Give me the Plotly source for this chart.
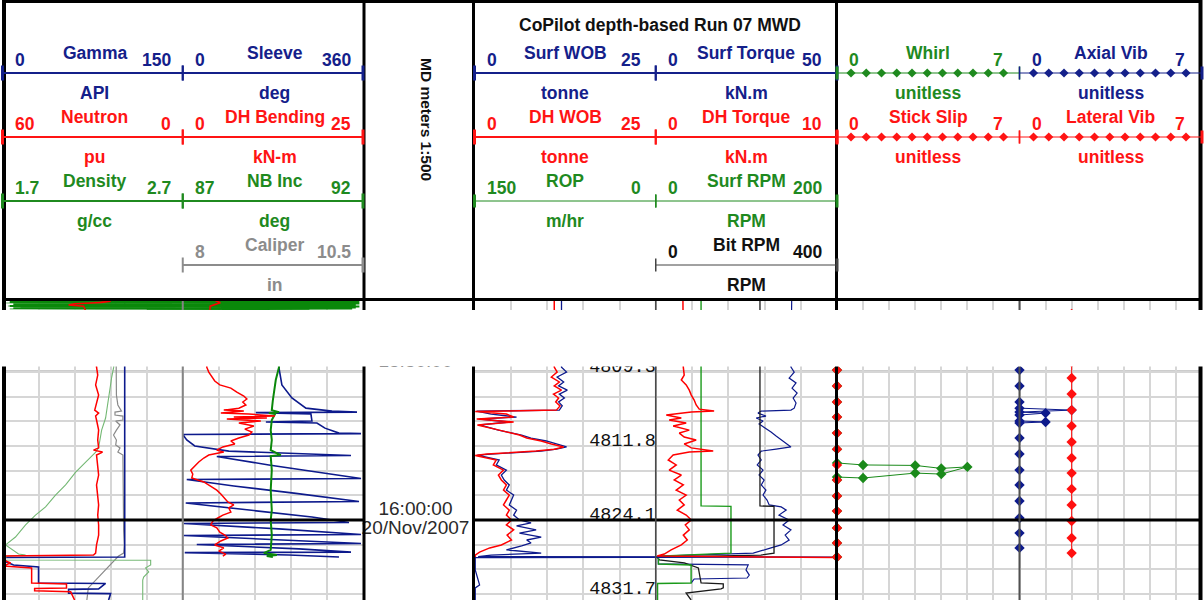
import numpy as np
import plotly.graph_objects as go

W, H = 1204, 600

# ------------------------------------------------------------------
# DATA  (time index = seconds relative to 16:00:00 on 20/Nov/2007)
# ------------------------------------------------------------------
# Track 1
gamma_t = [-891, 150, 152, 170, 182, 190, 255, 257, 279, 281, 296, 298, 324]
gamma_v = [101.7, 101.7, 0.8, 3.3, 9.2, 30.0, 30.0, 85.8, 80.0, 55.0, 55.0, 90.0, 88.3]

neutron_t = [-891, -886, -881, -876, -871, -866, -760, -619, -587, -547, -506, -466, -445, -433, -421,
             -405, -364, -324, -292, -283, -275, -263, -223, -182, -142, -101, -61, -20, 20, 61, 101,
             134, 142, 146, 162, 174, 186, 194, 255, 259, 275, 277, 287, 291, 324]
neutron_v = [31.0, 24.0, 27.0, 36.0, 38.0, 33.0, 29.0, 28.7, 28.3, 29.0, 28.0, 29.0, 29.3, 28.0, 29.0,
             28.7, 28.0, 28.3, 28.0, 29.7, 26.7, 28.7, 28.3, 28.0, 28.7, 28.3, 28.0, 28.3, 28.0, 28.0, 28.7,
             29.0, 29.7, 59.7, 59.7, 57.3, 59.7, 50.3, 50.3, 38.7, 38.7, 49.3, 49.3, 37.3, 36.0]

density_t = [-891, -888, -885, -882, -879, -876, -873, -870, -867, -864, -861, -858, -855, -852,
             -760, -619, -579, -547, -506, -466, -413, -364, -292, -275, -235, -194, -142, -101, -53,
             -20, 20, 69, 101, 138, 142, 146, 154, 162, 163, 182, 194, 210, 231, 243, 324]
density_v = [1.72, 2.66, 1.75, 2.68, 1.72, 2.64, 1.78, 2.68, 1.73, 2.60, 1.80, 2.66, 1.74, 2.50,
             2.33, 2.317, 2.306, 2.300, 2.289, 2.283, 2.272, 2.250, 2.233, 2.217, 2.161, 2.106, 2.050,
             1.994, 1.939, 1.883, 1.828, 1.772, 1.717, 1.789, 1.828, 1.733, 1.706, 1.706, 2.522, 2.522,
             2.494, 2.511, 2.483, 2.478, 2.478]

caliper_t = [-891, -619, -567, -506, -466, -445, -441, -437, -425, -421, -405, -401, -385, -364, -344,
             -324, -304, -292, -275, -263, -202, -121, -40, 40, 101, 134, 146, 275, 324]
caliper_v = [7.07, 7.07, 7.07, 7.08, 7.10, 7.15, 7.15, 7.06, 7.06, 7.17, 7.17, 7.07, 7.13, 7.08, 7.04,
             7.08, 7.07, 7.13, 7.10, 7.17, 7.17, 7.18, 7.17, 7.18, 7.19, 7.18, 7.11, 6.69, 6.67]

nbinc_t = [-891, -889, -887, -885, -883, -881, -879, -877, -875, -873, -871, -869, -867, -865, -863,
           -861, -859, -857, -855, -853,
           -760, -619, -567, -526, -486, -445, -437, -433, -429, -405, -364, -324, -283, -263, -259,
           -202, -121, -40, 0, 61, 121, 134, 142, 146, 150]
nbinc_v = [82.3, 91.8, 82.6, 91.9, 82.2, 91.7, 82.5, 91.9, 82.3, 91.8, 82.4, 91.6, 82.2, 91.9, 82.7,
           91.8, 82.3, 91.7, 86.0, 90.5,
           89.70, 89.67, 89.58, 89.53, 89.50, 89.47, 89.67, 89.39, 89.56, 89.47, 89.44, 89.47, 89.44,
           89.72, 89.44, 89.47, 89.44, 89.47, 89.44, 89.47, 89.44, 89.25, 89.61, 89.33, 89.50]

bend_t = [-891, -880, -866, -619, -599, -579, -563, -547, -534, -518, -502, -490, -478, -466, -453,
          -445, -441, -433, -429, -421, -417, -413, -409, -401, -393, -381, -368, -356, -344, -332,
          -320, -308, -296, -283, -275, -263, -251, -235, -219, -202, -186, -170, -154, -138, -121,
          -105, -89, -73, -61, -49, -32, -20, -8, 4, 20, 32, 49, 61, 73, 85, 101, 113, 126, 138, 146]
bend_v = [4.4, 5.2, 3.8, 3.33, 3.61, 4.03, 4.44, 5.14, 6.67, 7.50, 8.47, 8.89, 8.33, 8.75, 7.78,
          5.69, 8.47, 5.28, 9.17, 12.78, 7.08, 11.67, 6.11, 10.83, 7.78, 9.86, 8.61, 9.58, 9.17, 7.78,
          6.67, 7.22, 5.56, 4.72, 5.69, 3.61, 2.92, 2.22, 1.67, 1.11, 1.39, 1.25, 2.92, 3.89, 4.72,
          5.28, 5.83, 6.25, 7.08, 6.39, 6.67, 5.56, 4.86, 4.17, 3.89, 4.72, 5.14, 5.83, 6.25, 5.28,
          4.44, 5.69, 5.00, 5.97, 5.56]

sleeve_t = [-891, -885, -878, -870, -760, -619, -547, -494, -453, -441, -437, -435, -429, -401, -397,
            -393, -372, -352, -350, -346, -324, -300, -279, -261, -257, -223, -194, -168, -164, -138,
            -109, -75, -69, -40, -12, 10, 14, 36, 59, 63, 95, 99, 117, 130, 132, 142, 150]
sleeve_v = [80, 200, 140, 170, 180, 192, 198, 218, 246, 298, 348, 146, 256, 258, 166,
            268, 284, 312, 356, 0, 8, 24, 92, 336, 68, 172, 272, 356, 8, 102,
            222, 352, 6, 132, 258, 332, 2, 192, 356, 2, 356, 28, 232, 336, 4, 212, 312]

# Track 2
surfwob_t = [-891, -619, -599, -579, -559, -543, -526, -510, -494, -478, -462, -445, -441, -429, -417,
             -409, -397, -385, -364, -344, -332, -320, -308, -296, -287, -279, -267, -263, -243, -223,
             -202, -182, -162, -142, -121, -101, -81, -61, -40, -20, 0, 12, 24, 40, 53, 69, 81, 93,
             105, 121, 134, 142, 148, 150, 152, 202, 263, 275, 324]
surfwob_v = [12.0, 12.0, 12.7, 11.4, 12.3, 11.6, 12.8, 11.7, 12.4, 11.6, 12.1, 11.7, 0.3, 2.3, 5.8,
             0.7, 4.8, 0.7, 3.3, 6.5, 7.8, 9.9, 11.3, 12.7, 11.3, 9.2, 2.3, 0.4, 3.4, 3.0,
             4.4, 3.7, 4.1, 4.8, 4.4, 5.4, 5.1, 4.8, 5.8, 5.4, 6.2, 7.8, 5.8, 8.5, 6.2, 9.2, 7.2, 7.8,
             6.5, 4.4, 9.2, 2.3, 0.5, 50.0, 0.1, 0.1, 0.7, 0.1, 0.1]

dhwob_t = [-891, -619, -599, -579, -559, -543, -526, -510, -494, -478, -462, -445, -439, -429, -417,
           -409, -397, -385, -364, -344, -332, -320, -308, -296, -287, -279, -267, -261, -243, -223,
           -202, -182, -162, -142, -121, -101, -81, -61, -40, -20, 0, 20, 40, 61, 81, 101, 113, 130,
           142, 150]
dhwob_v = [11.0, 11.0, 11.4, 10.6, 11.7, 11.0, 12.0, 10.9, 11.6, 11.2, 11.8, 11.3, 0.1, 4.4, 5.4,
           0.3, 5.4, 0.4, 3.4, 6.2, 7.2, 9.2, 10.6, 12.3, 11.0, 8.5, 1.7, 0.1, 3.0, 2.6,
           4.0, 3.3, 3.7, 4.4, 4.0, 4.8, 4.4, 4.0, 4.8, 4.4, 5.1, 4.4, 5.4, 4.5, 5.1, 3.7, 2.1, 0.7,
           0.1, 0.1]

surftq_t = [-891, -619, -599, -575, -555, -534, -514, -494, -474, -453, -445, -441, -433, -421, -413,
            -401, -389, -372, -356, -340, -324, -308, -296, -287, -279, -263, -243, -223, -202, -182,
            -162, -142, -121, -101, -81, -61, -53, -40, -20, 0, 20, 40, 61, 81, 101, 113, 126, 134,
            146, 154, 178, 182, 202, 223, 235, 239, 255]
surftq_v = [37.5, 37.3, 38.2, 36.8, 38.7, 37.6, 39.0, 37.9, 38.7, 38.2, 37.3, 29.1, 28.2, 30.4, 27.7,
            29.6, 28.5, 30.4, 31.8, 33.2, 34.6, 36.2, 37.3, 33.2, 29.1, 28.2, 29.1, 28.0, 29.6, 28.5,
            29.9, 29.1, 30.4, 29.6, 30.7, 31.3, 34.6, 36.0, 34.0, 36.8, 35.1, 37.3, 35.7, 36.8, 34.6,
            31.8, 28.5, 26.9, 1.5, 0.7, 0.7, 25.5, 24.9, 25.8, 25.2, 10.6, 9.8]

dhtq_t = [-891, -619, -587, -567, -547, -526, -506, -486, -466, -449, -441, -437, -425, -413, -405,
          -393, -381, -364, -352, -336, -324, -308, -292, -279, -275, -263, -243, -223, -202, -182,
          -162, -142, -121, -101, -81, -61, -40, -20, 0, 20, 40, 61, 81, 101, 121, 138, 146, 150, 152]
dhtq_v = [1.50, 1.52, 1.57, 1.41, 1.68, 1.85, 1.96, 2.12, 2.23, 2.40, 3.22, 1.96, 0.58, 1.41, 0.74,
          1.68, 0.96, 1.85, 1.30, 1.57, 2.23, 1.57, 1.96, 3.17, 1.85, 0.96, 0.69, 1.13, 0.74, 1.41,
          1.02, 1.52, 1.13, 1.68, 1.30, 1.57, 1.19, 1.68, 1.96, 1.63, 1.85, 1.52, 1.74, 1.41, 0.85,
          0.47, 0.08, 10.0, 10.0]

surfrpm_t = [-891, -57, -55, 134, 146, 178, 182, 255, 257, 324]
surfrpm_v = [50, 50, 83, 83, 3, 3, 39, 39, 2, 2]

bitrpm_t = [-891, -57, -55, 134, 142, 150, 162, 170, 174, 194, 255, 259, 275, 279, 296, 324]
bitrpm_v = [230, 230, 261, 261, 232, 3, 8, 56, 63, 94, 100, 149, 149, 144, 67, 78]

# Track 3 (vibration severities)
stick_t = [-800, -735, -671, -607, -543, -478, -417, -352, -287, -223, -162, -97, -36, 32, 93, 150]
stick_v = [0, 0, 0, 0, 0, 0, 0, 0, 0, 0, 0, 0, 0, 0, 0, 0]

whirl_t = [-800, -735, -671, -607, -543, -478, -417, -352, -287, -231, -223, -221, -209, -215, -186,
           -190, -170, -174, -162, -97, -36, 32, 93, 150]
whirl_v = [0, 0, 0, 0, 0, 0, 0, 0, 0, 0, 1, 3, 4, 5, 4, 3, 1, 0, 0, 0, 0, 0, 0, 0]

axial_t = [-800, -735, -671, -607, -543, -478, -453, -445, -437, -433, -425, -401, -397, -393, -332,
           -267, -202, -142, -77, -8, 53, 113]
axial_v = [0, 0, 0, 0, 0, 0, 0, 2, 0, 1, 0, 0, 1, 0, 0, 0, 0, 0, 0, 0, 0, 0]

lateral_t = [-834, -770, -705, -640, -575, -510, -445, -381, -316, -251, -190, -126, -61, 4, 73, 134]
lateral_v = [2, 2, 2, 2, 2, 2, 2, 2, 2, 2, 2, 2, 2, 2, 2, 2]

# Depth / time annotations of the index track (text baselines)
depth_t = [-581, -281, 19, 319]
depth_labels = ["4809.3", "4811.8", "4824.1", "4831.7"]
time_t = [-600, 0]
time_labels = ["15:50:00", "16:00:00"]
date_t = [0]
date_labels = ["20/Nov/2007"]

TITLE = "CoPilot depth-based Run 07 MWD"
DEPTH_TITLE = "MD meters 1:500"

# ------------------------------------------------------------------
# STYLE / GEOMETRY
# ------------------------------------------------------------------
NAVY = "#14208a"
RED = "#ff1414"
GREEN = "#1f8a1f"
GRAY = "#8c8c8c"
BLACK = "#111111"
GRID = "#d6d6d6"
FONT = "Liberation Sans, Arial, sans-serif"

TRACKS = {1: (2.5, 363.0, 10), 2: (474.5, 837.0, 10), 3: (837.0, 1202.0, 14)}
DEPTH_TRACK = (364.0, 473.5)
BODY_TOP, BODY_BOT = 300, 600
Y_RANGE = [324, -891]
ROW_Y = [73, 137, 201, 265]
HEADER_LW = {1: [2, 2, 2, 2], 2: [2, 2, 1, 1], 3: [1, 1, 1, 1]}
LEFT_PAD = 10
RIGHT_PAD = {1: 10, 2: 13, 3: 15}
NAME_SHIFT = {1: 2, 2: 0, 3: 0}

curves = [
    dict(name="Gamma", unit="API", lo=0, hi=150, color=NAVY, track=1, half="L", row=0, t=gamma_t, v=gamma_v),
    dict(name="Sleeve", unit="deg", lo=0, hi=360, color=NAVY, track=1, half="R", row=0, t=sleeve_t, v=sleeve_v),
    dict(name="Neutron", unit="pu", lo=60, hi=0, color=RED, track=1, half="L", row=1, t=neutron_t, v=neutron_v),
    dict(name="DH Bending", unit="kN-m", lo=0, hi=25, color=RED, track=1, half="R", row=1, t=bend_t, v=bend_v),
    dict(name="Density", unit="g/cc", lo=1.7, hi=2.7, color=GREEN, track=1, half="L", row=2, t=density_t, v=density_v),
    dict(name="NB Inc", unit="deg", lo=87, hi=92, color=GREEN, track=1, half="R", row=2, t=nbinc_t, v=nbinc_v),
    dict(name="Caliper", unit="in", lo=8, hi=10.5, color=GRAY, track=1, half="R", row=3, t=caliper_t, v=caliper_v),
    dict(name="Surf WOB", unit="tonne", lo=0, hi=25, color=NAVY, track=2, half="L", row=0, t=surfwob_t, v=surfwob_v),
    dict(name="Surf Torque", unit="kN.m", lo=0, hi=50, color=NAVY, track=2, half="R", row=0, t=surftq_t, v=surftq_v),
    dict(name="DH WOB", unit="tonne", lo=0, hi=25, color=RED, track=2, half="L", row=1, t=dhwob_t, v=dhwob_v),
    dict(name="DH Torque", unit="kN.m", lo=0, hi=10, color=RED, track=2, half="R", row=1, t=dhtq_t, v=dhtq_v),
    dict(name="ROP", unit="m/hr", lo=150, hi=0, color=GREEN, track=2, half="L", row=2, t=None, v=None),
    dict(name="Surf RPM", unit="RPM", lo=0, hi=200, color=GREEN, track=2, half="R", row=2, t=surfrpm_t, v=surfrpm_v),
    dict(name="Bit RPM", unit="RPM", lo=0, hi=400, color=BLACK, track=2, half="R", row=3, t=bitrpm_t, v=bitrpm_v),
    dict(name="Whirl", unit="unitless", lo=0, hi=7, color=GREEN, track=3, half="L", row=0, t=whirl_t, v=whirl_v),
    dict(name="Axial Vib", unit="unitless", lo=0, hi=7, color=NAVY, track=3, half="R", row=0, t=axial_t, v=axial_v),
    dict(name="Stick Slip", unit="unitless", lo=0, hi=7, color=RED, track=3, half="L", row=1, t=stick_t, v=stick_v),
    dict(name="Lateral Vib", unit="unitless", lo=0, hi=7, color=RED, track=3, half="R", row=1, t=lateral_t, v=lateral_v),
]

CURVE_STYLE = {
    "Gamma": dict(color="#0d1a8c", width=1.6),
    "Sleeve": dict(color="#0d1a8c", width=1.6),
    "Neutron": dict(color="#ff0000", width=1.5),
    "DH Bending": dict(color="#ff0000", width=1.5),
    "Density": dict(color="#74b874", width=1.1),
    "NB Inc": dict(color="#0a880a", width=2.0),
    "Caliper": dict(color="#8a8a8a", width=1.2),
    "Surf WOB": dict(color="#0d1a8c", width=1.3),
    "Surf Torque": dict(color="#0d1a8c", width=1.2),
    "DH WOB": dict(color="#ff0000", width=1.5),
    "DH Torque": dict(color="#ff0000", width=1.5),
    "Surf RPM": dict(color="#1a9a1a", width=1.4),
    "Bit RPM": dict(color="#1a1a1a", width=1.3),
    "Whirl": dict(color="#1a8a1a", width=1.0),
    "Axial Vib": dict(color="#0d1a8c", width=1.0),
    "Stick Slip": dict(color="#ff1010", width=1.0),
    "Lateral Vib": dict(color="#ff1010", width=1.0),
}
VIB = {"Whirl", "Axial Vib", "Stick Slip", "Lateral Vib"}
DRAW_ORDER = ["Caliper", "Gamma", "Sleeve", "Density", "NB Inc", "Neutron", "DH Bending",
              "Surf Torque", "Bit RPM", "Surf RPM", "Surf WOB", "DH WOB", "DH Torque",
              "Whirl", "Axial Vib", "Stick Slip", "Lateral Vib"]


def fmt(v):
    return "{:g}".format(v)


def half_bounds(track, half):
    x0, x1, _ = TRACKS[track]
    mid = (x0 + x1) / 2
    return (x0, mid) if half == "L" else (mid, x1)


def full_range(c):
    lo, hi = c["lo"], c["hi"]
    if c["half"] == "L":
        return [lo, 2 * hi - lo]
    return [2 * lo - hi, hi]


# ------------------------------------------------------------------
# FIGURE / AXES
# ------------------------------------------------------------------
fig = go.Figure()
layout = dict(
    width=W, height=H, autosize=False, margin=dict(l=0, r=0, t=0, b=0),
    paper_bgcolor="white", plot_bgcolor="rgba(0,0,0,0)", showlegend=False,
)
body_dom = [0, (H - BODY_TOP) / H]
base_x = {1: "x", 2: "x2", 3: "x3"}
for k, name in [(1, "xaxis"), (2, "xaxis2"), (3, "xaxis3")]:
    x0, x1, nd = TRACKS[k]
    layout[name] = dict(domain=[x0 / W, x1 / W], range=[0, nd], dtick=1, tick0=0, showgrid=True,
                        gridcolor=GRID, gridwidth=2, showticklabels=False, ticks="", zeroline=False,
                        showline=False, anchor="y", fixedrange=True)
layout["yaxis"] = dict(domain=body_dom, range=Y_RANGE, dtick=100, tick0=0, showgrid=True,
                       gridcolor=GRID, gridwidth=2, zeroline=False, showticklabels=False,
                       ticks="", showline=False, anchor="x", fixedrange=True)
layout["xaxis4"] = dict(domain=[DEPTH_TRACK[0] / W, DEPTH_TRACK[1] / W], range=[0, 1], visible=False,
                        anchor="y2", fixedrange=True)
layout["yaxis2"] = dict(domain=body_dom, range=Y_RANGE, visible=False, anchor="x4", fixedrange=True)
layout["xaxis5"] = dict(domain=[0, 1], range=[0, W], visible=False, anchor="y3", fixedrange=True)
layout["yaxis3"] = dict(domain=[0, 1], range=[H, 0], visible=False, anchor="x5", fixedrange=True)

# dummy traces so the base track subplots exist
for k in (1, 3):
    fig.add_trace(go.Scatter(x=[None], y=[None], xaxis=base_x[k], yaxis="y", hoverinfo="skip"))

# curves
by_name = {c["name"]: c for c in curves}
ax_n = 6
for nm in DRAW_ORDER:
    c = by_name[nm]
    if c["t"] is None:
        continue
    layout["xaxis%d" % ax_n] = dict(overlaying=base_x[c["track"]], range=full_range(c), visible=False,
                                    anchor="y", fixedrange=True)
    st = CURVE_STYLE[nm]
    if nm in VIB:
        fig.add_trace(go.Scatter(x=c["v"], y=c["t"], mode="lines+markers", xaxis="x%d" % ax_n, yaxis="y",
                                 line=dict(color=st["color"], width=st["width"]),
                                 marker=dict(symbol="diamond", size=8, color=st["color"]),
                                 cliponaxis=False, hoverinfo="skip"))
    else:
        fig.add_trace(go.Scatter(x=c["v"], y=c["t"], mode="lines", xaxis="x%d" % ax_n, yaxis="y",
                                 line=dict(color=st["color"], width=st["width"]), hoverinfo="skip"))
    ax_n += 1

# depth labels in track 2, time labels in the index track
mid2 = TRACKS[2][2] / 2
fig.add_trace(go.Scatter(x=[mid2] * len(depth_t), y=depth_t, mode="text", text=depth_labels,
                         textposition="top left", xaxis="x2", yaxis="y", hoverinfo="skip",
                         textfont=dict(family="Liberation Mono, Courier New, monospace", size=18.5,
                                       color="#111111")))
TIME_X = 0.47
fig.add_trace(go.Scatter(x=[TIME_X] * len(time_t), y=time_t, mode="text", text=time_labels,
                         textposition="top center", xaxis="x4", yaxis="y2", cliponaxis=False,
                         hoverinfo="skip", textfont=dict(family=FONT, size=19, color="#2a2a2a")))
fig.add_trace(go.Scatter(x=[TIME_X] * len(date_t), y=date_t, mode="text", text=date_labels,
                         textposition="bottom center", xaxis="x4", yaxis="y2", cliponaxis=False,
                         hoverinfo="skip", textfont=dict(family=FONT, size=19, color="#2a2a2a")))

# ------------------------------------------------------------------
# SHAPES
# ------------------------------------------------------------------
shapes = []


def seg(x0, y0, x1, y1, color, width, xref="x5", yref="y3", layer="above"):
    shapes.append(dict(type="line", x0=x0, y0=y0, x1=x1, y1=y1, xref=xref, yref=yref,
                       line=dict(color=color, width=width), layer=layer))


# body: major time lines and half-track split lines
for k in (1, 2, 3):
    nd = TRACKS[k][2]
    seg(0, time_t[0], nd, time_t[0], "#9a9a9a", 2.5, xref=base_x[k], yref="y", layer="below")
    seg(0, 0, nd, 0, "black", 3, xref=base_x[k], yref="y", layer="above")
split_style = {1: ("#858585", 2), 2: ("#4a4a4a", 1.6), 3: ("#505050", 2)}
for k in (1, 2, 3):
    nd = TRACKS[k][2]
    seg(nd / 2, 0, nd / 2, 1, split_style[k][0], split_style[k][1], xref=base_x[k], yref="y domain",
        layer="above")

# borders
for xb, wb in [(4, 4), (364, 3), (473.5, 3), (836.5, 3), (1200.5, 4)]:
    seg(xb, 0, xb, H, "black", wb)
seg(2, 1.5, 1202, 1.5, "black", 3)
seg(2, 299.5, 1202, 299.5, "black", 3)

# header scale lines with ticks
annotations = []


def label(x, y, text, color, anchor="center", size=17.5, bold=True, angle=0):
    annotations.append(dict(x=x, y=y, xref="x5", yref="y3", text=("<b>%s</b>" % text) if bold else text,
                            showarrow=False, xanchor=anchor, yanchor="middle", textangle=angle,
                            font=dict(family=FONT, size=size, color=color)))


marker_x, marker_y, marker_c = [], [], []
for c in curves:
    k, row = c["track"], c["row"]
    h0, h1 = half_bounds(k, c["half"])
    y = ROW_Y[row]
    lw = HEADER_LW[k][row]
    col = c["color"] if c["name"] != "Bit RPM" else "#444444"
    seg(h0, y, h1, y, col, lw)
    tk = 7.5 if lw >= 2 else 6.5
    for xe in (h0, h1):
        seg(xe, y - tk, xe, y + tk, col, max(lw, 1.5) if xe not in (TRACKS[k][0], TRACKS[k][1]) else 3)
    cx = (h0 + h1) / 2 + NAME_SHIFT[k]
    label(cx, y - 20, c["name"], c["color"])
    label(cx, y + 20, c["unit"], c["color"])
    label(h0 + LEFT_PAD, y - 13, fmt(c["lo"]), c["color"], anchor="left")
    label(h1 - RIGHT_PAD[k], y - 13, fmt(c["hi"]), c["color"], anchor="right")
    if k == 3:
        xs = np.linspace(h0 + 14, h1 - 16, 11)
        marker_x += list(xs)
        marker_y += [y] * len(xs)
        marker_c += [c["color"]] * len(xs)

fig.add_trace(go.Scatter(x=marker_x, y=marker_y, mode="markers", xaxis="x5", yaxis="y3", hoverinfo="skip",
                         marker=dict(symbol="diamond", size=7, color=marker_c)))

label((TRACKS[2][0] + TRACKS[2][1]) / 2 + 4, 25, TITLE, BLACK)
label(427, 119, DEPTH_TITLE, BLACK, size=15.5, angle=90)

# white gap hiding part of the log body
shapes.append(dict(type="rect", x0=0, x1=W, y0=310, y1=366.5, xref="x5", yref="y3",
                   fillcolor="white", line=dict(width=0), layer="above"))

layout["shapes"] = shapes
layout["annotations"] = annotations
fig.update_layout(**layout)
fig.write_html("out.html")
